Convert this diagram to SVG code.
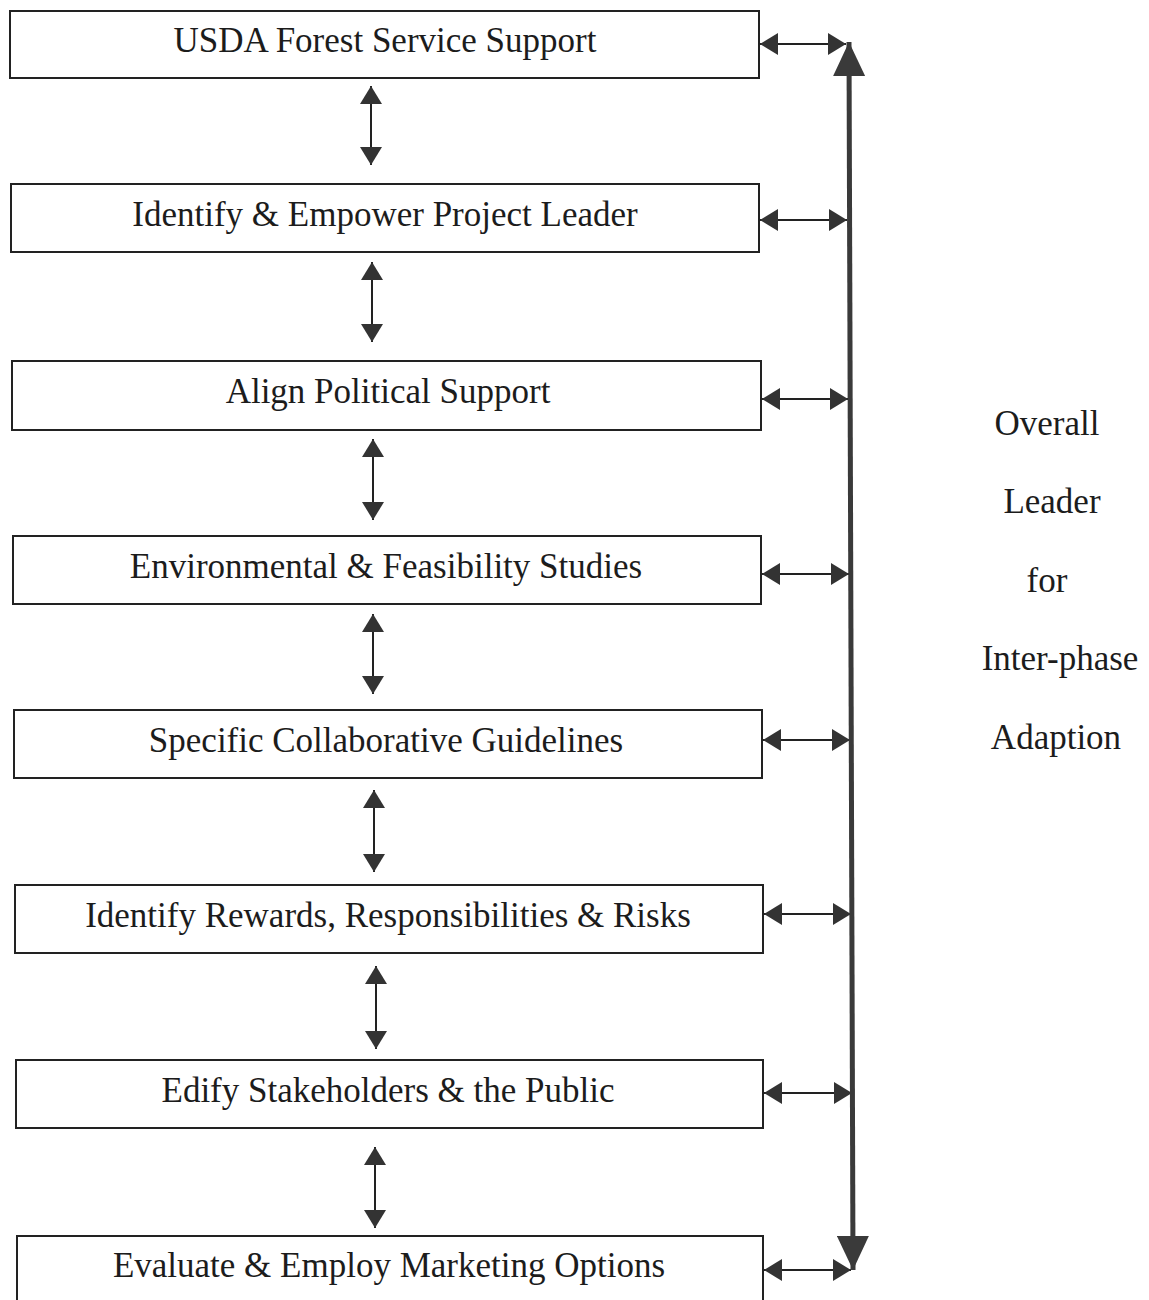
<svg xmlns="http://www.w3.org/2000/svg" width="1149" height="1300" viewBox="0 0 1149 1300">
  <style>
    .box rect { fill: #ffffff; stroke: #222222; stroke-width: 2; }
    .box text, .side text { font-family: "Liberation Serif", "Times New Roman", serif; font-size: 35px; fill: #1c1c1c; text-anchor: middle; }
    .link { stroke: #222222; stroke-width: 2; fill: none; marker-start: url(#head); marker-end: url(#head); }
    .spine { stroke: #3a3a3a; stroke-width: 5; fill: none; marker-start: url(#bighead); marker-end: url(#bighead); }
  </style>
  <defs>
    <marker id="head" viewBox="0 0 18 22" refX="18" refY="11" markerWidth="18" markerHeight="22" markerUnits="userSpaceOnUse" orient="auto-start-reverse">
      <path d="M0,0 L18,11 L0,22 z" fill="#333333"/>
    </marker>
    <marker id="bighead" viewBox="0 0 34 32" refX="34" refY="16" markerWidth="34" markerHeight="32" markerUnits="userSpaceOnUse" orient="auto-start-reverse">
      <path d="M0,0 L34,16 L0,32 z" fill="#3a3a3a"/>
    </marker>
  </defs>

  <!-- phase boxes -->
  <g id="n1" class="box"><rect x="10" y="11" width="749" height="67"/><text x="385" y="52">USDA Forest Service Support</text></g>
  <g id="n2" class="box"><rect x="11" y="184" width="748" height="68"/><text x="385" y="226">Identify &amp; Empower Project Leader</text></g>
  <g id="n3" class="box"><rect x="12" y="361" width="749" height="69"/><text x="388" y="403">Align Political Support</text></g>
  <g id="n4" class="box"><rect x="13" y="536" width="748" height="68"/><text x="386" y="578">Environmental &amp; Feasibility Studies</text></g>
  <g id="n5" class="box"><rect x="14" y="710" width="748" height="68"/><text x="386" y="752">Specific Collaborative Guidelines</text></g>
  <g id="n6" class="box"><rect x="15" y="885" width="748" height="68"/><text x="388" y="927">Identify Rewards, Responsibilities &amp; Risks</text></g>
  <g id="n7" class="box"><rect x="16" y="1060" width="747" height="68"/><text x="388" y="1102">Edify Stakeholders &amp; the Public</text></g>
  <g id="n8" class="box"><rect x="17" y="1236" width="746" height="80"/><text x="389" y="1277">Evaluate &amp; Employ Marketing Options</text></g>

  <!-- side label -->
  <g id="overall-leader" class="side">
    <text x="1047" y="435">Overall</text>
    <text x="1052" y="513">Leader</text>
    <text x="1047" y="592">for</text>
    <text x="1060" y="670">Inter-phase</text>
    <text x="1056" y="749">Adaption</text>
  </g>

  <!-- connectors -->
  <g id="connectors">
    <!-- between consecutive phases -->
    <line class="link" x1="371" y1="86" x2="371" y2="165"/>
    <line class="link" x1="372" y1="262" x2="372" y2="342"/>
    <line class="link" x1="373" y1="439" x2="373" y2="520"/>
    <line class="link" x1="373" y1="614" x2="373" y2="694"/>
    <line class="link" x1="374" y1="790" x2="374" y2="872"/>
    <line class="link" x1="376" y1="966" x2="376" y2="1049"/>
    <line class="link" x1="375" y1="1147" x2="375" y2="1228"/>
    <!-- phase to overall leader spine -->
    <line class="link" x1="760" y1="44" x2="846" y2="44"/>
    <line class="link" x1="760" y1="220" x2="847" y2="220"/>
    <line class="link" x1="762" y1="399" x2="848" y2="399"/>
    <line class="link" x1="762" y1="574" x2="849" y2="574"/>
    <line class="link" x1="763" y1="740" x2="850" y2="740"/>
    <line class="link" x1="764" y1="914" x2="851" y2="914"/>
    <line class="link" x1="764" y1="1093" x2="852" y2="1093"/>
    <line class="link" x1="764" y1="1270" x2="851" y2="1270"/>
    <!-- spine -->
    <line class="spine" x1="849" y1="42" x2="853" y2="1270"/>
  </g>
</svg>
